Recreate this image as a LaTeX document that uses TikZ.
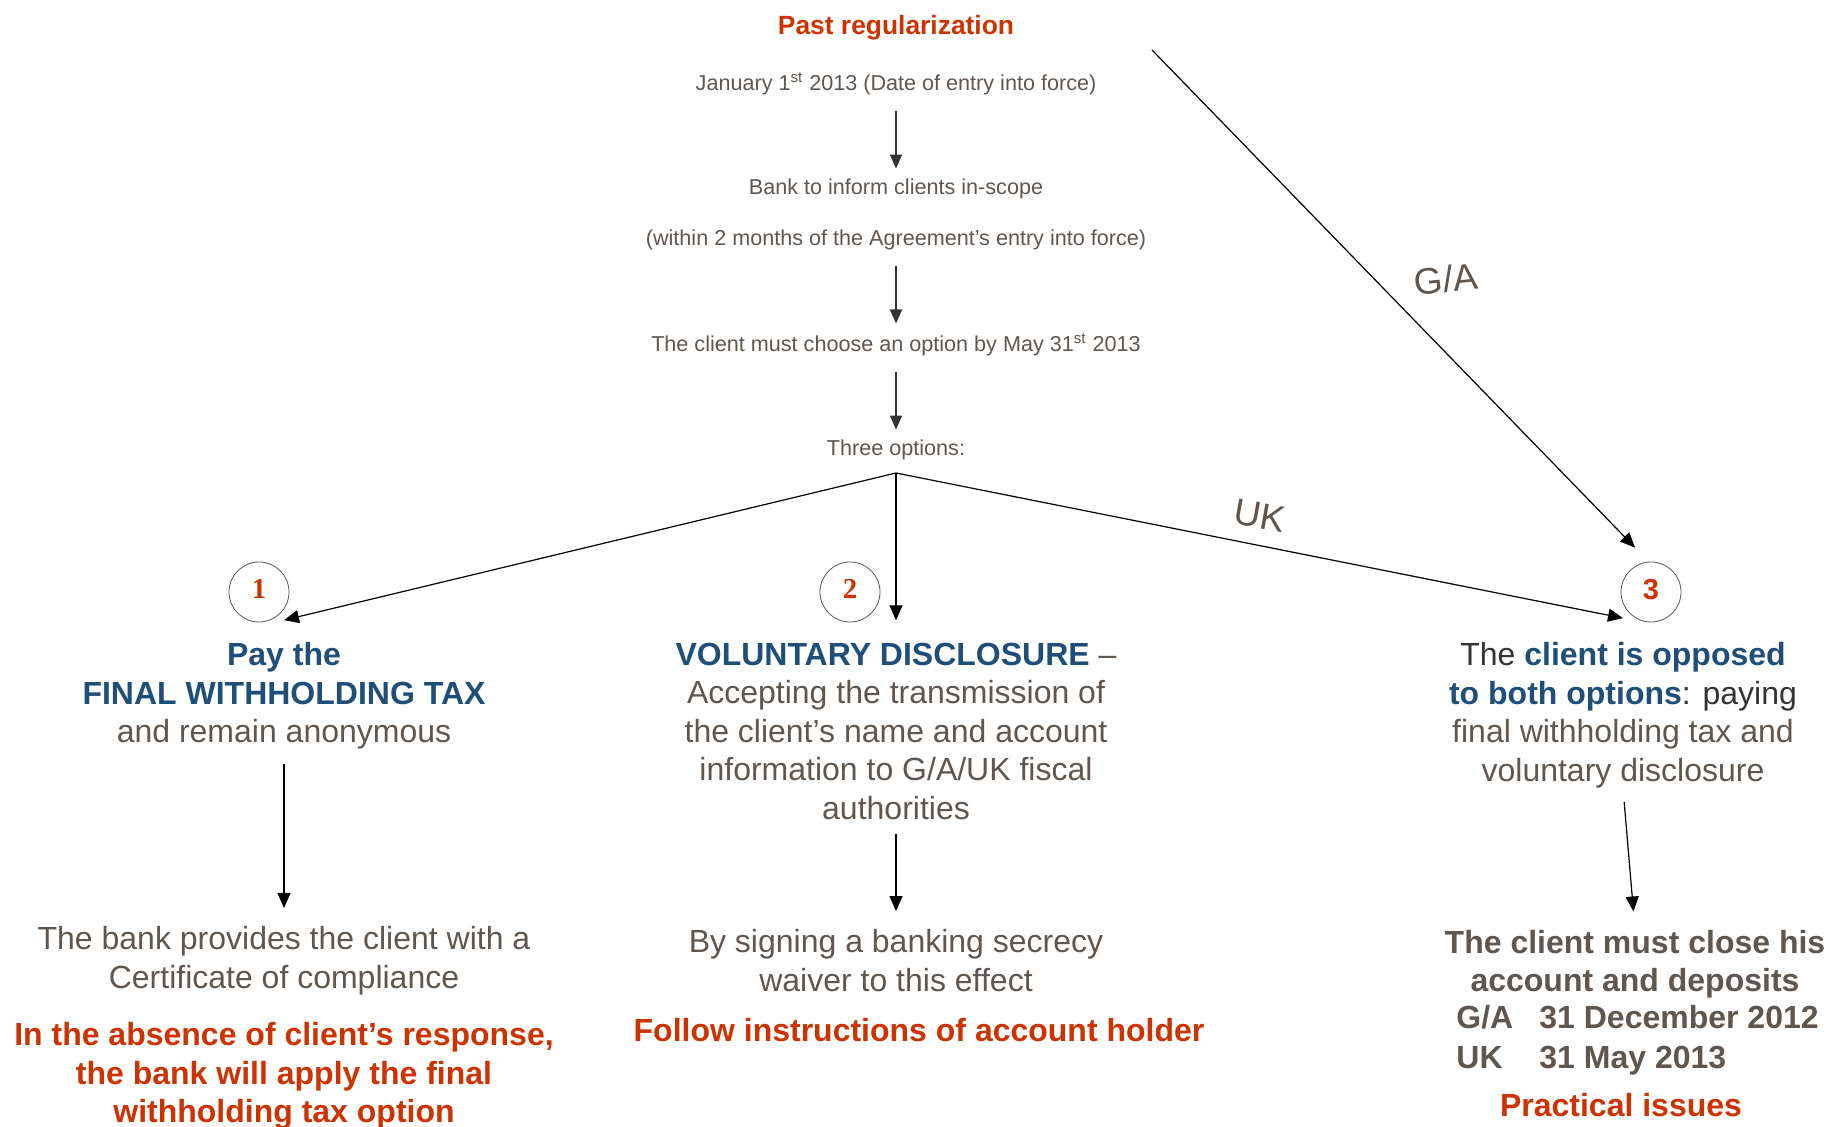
\documentclass[tikz,border=0pt]{standalone}
\usepackage{fontspec}
\setmainfont{Liberation Sans}
\newfontfamily\numserif{Liberation Serif}
\usetikzlibrary{arrows.meta}
\definecolor{regred}{HTML}{CC3300}
\definecolor{optblue}{HTML}{1F4E79}
\definecolor{txtgray}{HTML}{5F5650}
\definecolor{txtdark}{HTML}{333333}
\begin{document}
\begin{tikzpicture}[x=0.5pt,y=-0.5pt,
    small/.style={font=\fontsize{10.8}{13}\selectfont,text=txtgray,inner sep=0pt},
    body/.style={font=\fontsize{16}{19.25}\selectfont,text=txtgray,align=center,inner sep=0pt},
    alert/.style={body,text=regred,font=\fontsize{16}{19.25}\selectfont\bfseries},
    numcirc/.style={circle,draw=txtgray,minimum size=30pt,inner sep=0pt,text=regred},
    toparr/.style={draw=txtdark,line width=0.8pt,-{Triangle[length=7pt,width=6pt]},shorten <=8pt,shorten >=5pt},
    arr/.style={line width=0.6pt,-{Triangle[length=7.5pt,width=6.5pt]}},
    lbl/.style={font=\fontsize{18.5}{18.5}\selectfont,text=txtgray}]
    \useasboundingbox (0,0) rectangle (1831,1127);

    % timeline
    \node[font=\fontsize{13.2}{15}\selectfont\bfseries,text=regred,inner sep=0pt] (title) at (896,28) {Past regularization};
    \node[small] (jan) at (896,83.5) {January 1\textsuperscript{st} 2013 (Date of entry into force)};
    \node[small] (bank) at (896,189) {Bank to inform clients in-scope};
    \node[small] (within) at (896,240) {(within 2 months of the Agreement’s entry into force)};
    \node[small] (choose) at (896,345) {The client must choose an option by May 31\textsuperscript{st} 2013};
    \node[small] (opts) at (896,450) {Three options:};
    \coordinate (fork) at (896,473);
    \coordinate (gatop) at (1152,50);

    \foreach \a/\b in {jan/bank,within/choose,choose/opts} {
        \draw[toparr] (\a) -- (\b);
    }

    % the three options
    \foreach \n/\x/\f in {1/259/\numserif,2/850/\numserif,3/1651/\rmfamily} {
        \node[numcirc,font=\f\fontsize{14.5}{14.5}\selectfont\bfseries] (c\n) at (\x,592) {\raisebox{3pt}{\n}};
    }

    \node[body] (pay) at (284,696) {\textcolor{optblue}{\bfseries Pay the}\\\textcolor{optblue}{\bfseries FINAL WITHHOLDING TAX}\\and remain anonymous};
    \node[body] (vd) at (896,731) {\textcolor{optblue}{\bfseries VOLUNTARY DISCLOSURE} –\\Accepting the transmission of\\the client’s name and account\\information to G/A/UK fiscal\\authorities};
    \node[body,text=txtdark] (opp) at (1623,715.2) {The \textcolor{optblue}{\bfseries client is opposed}\\\textcolor{optblue}{\bfseries to both options}: paying\\\textcolor{txtgray}{final withholding tax and}\\\textcolor{txtgray}{voluntary disclosure}};

    \foreach \t in {pay,vd} {
        \draw[arr] (fork) -- ([yshift=11pt]\t.north);
    }
    \draw[arr] (fork) -- ([yshift=12pt]opp.north) node[lbl,midway,yshift=15pt,rotate=-10] (uk) {UK};
    \draw[arr] (gatop) -- ([xshift=-8pt,yshift=7pt]c3.north) node[lbl,pos=0.46,xshift=36pt,rotate=6] (ga) {G/A};

    % outcomes
    \node[body] (cert) at (284,960.5) {The bank provides the client with a\\Certificate of compliance};
    \node[alert] (absence) at (284,1076) {In the absence of client’s response,\\the bank will apply the final\\withholding tax option};
    \node[body] (waiver) at (896,960.5) {By signing a banking secrecy\\waiver to this effect};
    \node[alert] (follow) at (919,1030) {Follow instructions of account holder};
    \node[body,font=\fontsize{16}{19.25}\selectfont\bfseries] (close) at (1635,964) {The client must close his\\account and deposits};
    \node[body,font=\fontsize{16}{20}\selectfont\bfseries,align=left,anchor=west] (dates) at (1456,1040.5) {\makebox[41.5pt][l]{G/A}31 December 2012\\\makebox[41.5pt][l]{UK}31 May 2013};
    \node[alert] (practical) at (1621,1105) {Practical issues};

    \draw[arr,shorten <=7pt,shorten >=9pt] (pay.south) -- (cert.north);
    \draw[arr,shorten <=7pt,shorten >=9pt] (vd.south) -- (waiver.north);
    \draw[arr,shorten <=7pt,shorten >=9pt] (opp.south) -- (close.north);
\end{tikzpicture}
\end{document}
